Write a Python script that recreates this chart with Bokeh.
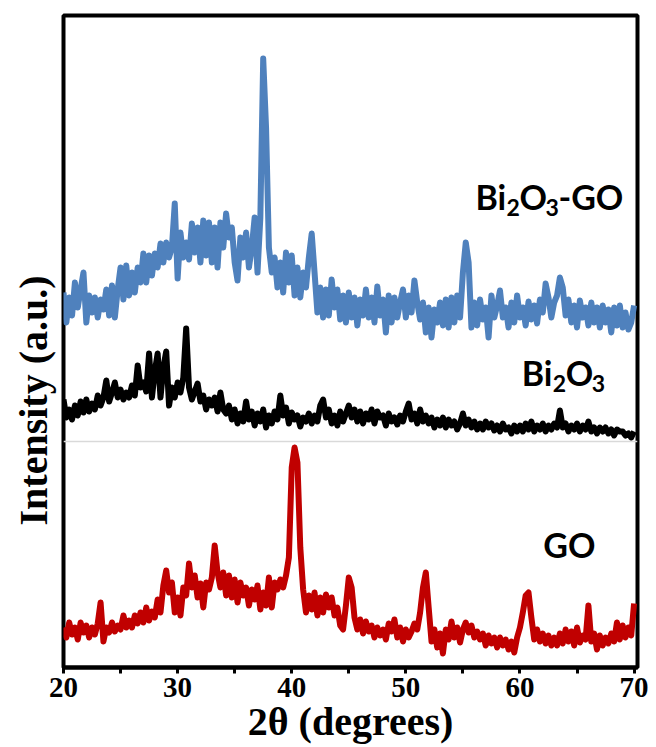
import numpy as np
from bokeh.plotting import figure
from bokeh.models import Range1d, Span, Label, FixedTicker, Title
from bokeh.embed import file_html
from bokeh.resources import INLINE

# 2-theta sampling: 20.00 .. 70.00 deg, step 0.25 deg
theta_start = 20.0
theta_step = 0.25

# Intensities (a.u., stacked offsets as drawn)
go = [
    40, 30, 45, 33,  40, 28, 45, 35,  42, 30, 40, 33,  44, 65, 26, 40,
    35, 45, 36, 42,  38, 52, 40, 47,  40, 52, 44, 55,  45, 60, 47, 56,
    50, 68, 55, 82,  97, 75, 85, 55,  70, 52, 80, 72,  104, 80, 92, 70,
    84, 60, 85, 78,  90, 122, 95, 80,  95, 72, 92, 70,  88, 65, 85, 72,
    80, 62, 78, 68,  82, 58, 75, 62,  90, 60, 85, 78,  88, 80, 92, 110,
    200, 220, 205, 120,  78, 55, 72, 58,  75, 52, 70, 55,  73, 60, 70, 52,
    60, 42, 38, 62,  90, 80, 50, 38,  48, 34, 46, 36,  42, 30, 40, 32,
    38, 28, 44, 36,  48, 30, 40, 26,  38, 30, 36, 44,  38, 55, 80, 95,
    60, 26, 38, 20,  34, 14, 38, 28,  46, 30, 40, 25,  38, 45, 35, 42,
    30, 36, 28, 34,  22, 32, 24, 30,  20, 30, 22, 28,  18, 26, 15, 30,
    40, 55, 72, 75,  50, 28, 38, 26,  34, 24, 32, 22,  30, 22, 34, 24,
    38, 26, 36, 22,  40, 25, 32, 28,  62, 26, 34, 18,  32, 22, 30, 24,
    34, 26, 45, 28,  42, 30, 40, 32,
    64,
]

bi2o3 = [
    268, 250, 258, 248,  262, 252, 266, 255,  268, 256, 264, 258,  272, 262, 270, 287,
    266, 275, 285, 270,  278, 268, 275, 270,  282, 272, 302, 280,  285, 276, 314, 270,
    296, 314, 270, 300,  316, 262, 280, 270,  285, 275, 290, 339,  280, 268, 276, 284,
    266, 272, 258, 268,  262, 270, 256, 275,  258, 254, 262, 248,  258, 244, 254, 246,
    266, 248, 256, 242,  254, 246, 258, 240,  252, 244, 256, 248,  272, 252, 260, 244,
    255, 248, 252, 241,  250, 246, 254, 244,  252, 246, 262, 268,  250, 258, 244, 252,
    242, 256, 246, 254,  262, 250, 258, 246,  256, 244, 254, 248,  258, 244, 256, 250,
    252, 242, 254, 246,  250, 243, 252, 246,  256, 264, 248, 254,  244, 258, 246, 252,
    244, 250, 240, 248,  242, 250, 240, 248,  242, 246, 238, 244,  254, 242, 248, 240,
    246, 238, 244, 238,  246, 240, 244, 237,  242, 236, 244, 238,  240, 234, 242, 236,
    242, 236, 244, 238,  246, 236, 242, 238,  244, 236, 242, 238,  244, 240, 257, 240,
    244, 236, 242, 238,  244, 236, 242, 238,  246, 236, 240, 234,  240, 236, 240, 234,
    238, 232, 238, 236,  236, 232, 234, 230,
    236,
]

bi2o3_go = [
    375, 345, 370, 352,  385, 360, 378, 395,  345, 372, 355, 370,  350, 368, 358, 378,
    352, 382, 350, 378,  400, 368, 402, 372,  395, 375, 400, 385,  414, 385, 412, 392,
    414, 400, 424, 405,  425, 410, 420, 464,  389, 435, 410, 425,  408, 444, 415, 440,
    405, 447, 412, 445,  405, 440, 400, 445,  420, 454, 430, 440,  405, 387, 430, 410,
    435, 400, 420, 450,  395, 450, 609, 540,  420, 395, 410, 380,  405, 375, 415, 385,
    412, 372, 400, 370,  395, 380, 410, 434,  395, 355, 380, 350,  378, 352, 388, 360,
    378, 348, 372, 345,  375, 350, 370, 342,  368, 352, 378, 350,  370, 345, 381, 352,
    368, 335, 372, 345,  370, 350, 365, 378,  350, 372, 355, 387,  365, 348, 365, 335,
    360, 330, 358, 345,  365, 342, 368, 340,  370, 345, 372, 350,  395, 425, 405, 340,
    365, 342, 368, 348,  360, 330, 372, 350,  362, 377, 350, 360,  340, 365, 345, 372,
    350, 360, 342, 366,  348, 362, 344, 368,  355, 384, 370, 350,  365, 372, 390, 380,
    352, 368, 345, 362,  340, 367, 350, 360,  342, 365, 345, 360,  340, 362, 345, 358,
    335, 360, 342, 362,  340, 355, 338, 345,
    362,
]

x_tick_values = [20, 30, 40, 50, 60, 70]
x_minor_ticks = [25, 35, 45, 55, 65]
divider_level = 226

series = [
    (go, "#C00000"),
    (bi2o3, "#000000"),
    (bi2o3_go, "#4F81BD"),
]

p = figure(width=656, height=747, output_backend="svg", toolbar_location=None,
           x_range=Range1d(20, 70.3), y_range=Range1d(0, 652),
           min_border_left=63, min_border_right=19, min_border_top=15,
           min_border_bottom=80)
p.background_fill_color = "white"
p.border_fill_color = "white"
p.outline_line_color = "black"
p.outline_line_width = 4
p.grid.visible = False
p.yaxis.visible = False

xa = p.xaxis[0]
xa.ticker = FixedTicker(ticks=x_tick_values, minor_ticks=x_minor_ticks)
xa.major_label_text_font = "Liberation Serif"
xa.major_label_text_font_style = "bold"
xa.major_label_text_font_size = "29px"
xa.major_label_text_color = "black"
xa.axis_line_color = "black"
xa.axis_line_width = 4
xa.major_tick_line_color = "black"
xa.minor_tick_line_color = "black"
xa.major_tick_line_width = 3
xa.minor_tick_line_width = 3
xa.major_tick_out = 6
xa.major_tick_in = 0
xa.minor_tick_out = 6
xa.minor_tick_in = 0
xa.major_label_standoff = 4
xa.axis_label = "2θ (degrees)"
xa.axis_label_text_font = "Liberation Serif"
xa.axis_label_text_font_style = "bold"
xa.axis_label_text_font_size = "40px"
xa.axis_label_text_color = "black"
xa.axis_label_standoff = -1

p.add_layout(Title(text="Intensity (a.u.)", align="left", offset=142,
                   standoff=16, text_font="Liberation Serif",
                   text_font_style="bold", text_font_size="40px",
                   text_color="black"), "left")

p.add_layout(Span(location=divider_level, dimension="width",
                  line_color="#d9d9d9", line_width=1.5))

for ys, color in series:
    xs = theta_start + theta_step * np.arange(len(ys))
    p.line(xs, ys, line_color=color, line_width=6, line_join="round")


def chem(x, y, parts):
    for txt, sub, dx in parts:
        p.add_layout(Label(x=x, y=y, x_offset=dx, y_offset=-11 if sub else 0,
                           text=txt, text_align="left",
                           text_baseline="alphabetic",
                           text_font="Lato", text_font_style="bold",
                           text_font_size="23px" if sub else "34px",
                           text_color="black"))


chem(56.1, 471, [("Bi", False, 0), ("2", True, 31), ("O", False, 44),
                 ("3", True, 70), ("-GO", False, 83)])
chem(60.15, 295, [("Bi", False, 0), ("2", True, 31), ("O", False, 44),
                  ("3", True, 70)])
chem(62.05, 123, [("GO", False, 0)])

open("out.html", "w").write(file_html(p, INLINE))
